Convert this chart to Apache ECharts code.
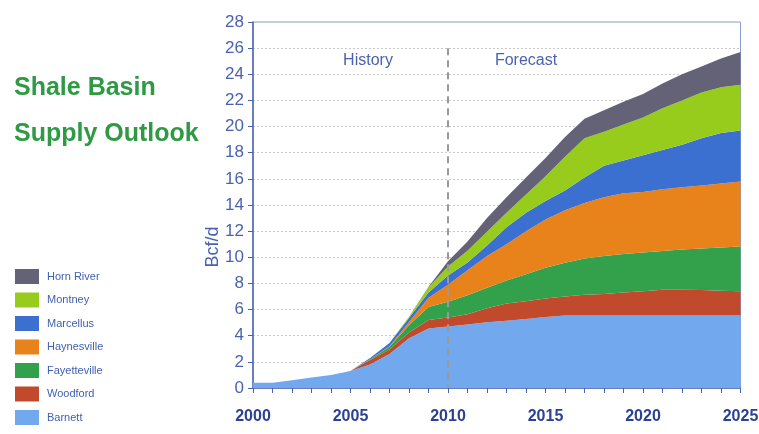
<!DOCTYPE html>
<html>
<head>
<meta charset="utf-8">
<script src="https://cdn.jsdelivr.net/npm/echarts@6/dist/echarts.min.js"></script>
<style>
html,body{margin:0;padding:0;background:#ffffff;}
#c{width:759px;height:434px;}
</style>
</head>
<body>
<div id="c"></div>
<script>
const years = ['2000','2001','2002','2003','2004','2005','2006','2007','2008','2009','2010','2011','2012','2013','2014','2015','2016','2017','2018','2019','2020','2021','2022','2023','2024','2025'];
const yTicks = {min: 0, max: 28, interval: 2};
const barnett      = [0.4,0.4,0.6,0.8,1.0,1.3,1.8,2.6,3.8,4.55,4.7,4.85,5.03,5.15,5.28,5.44,5.54,5.54,5.54,5.54,5.54,5.54,5.54,5.54,5.54,5.54];
const woodford     = [0,0,0,0,0,0,0.35,0.35,0.45,0.65,0.7,0.8,1.07,1.31,1.36,1.41,1.46,1.59,1.66,1.76,1.87,1.97,1.97,1.95,1.9,1.87];
const fayetteville = [0,0,0,0,0,0,0.05,0.2,0.55,1.0,1.2,1.45,1.57,1.77,2.06,2.35,2.59,2.77,2.9,2.96,2.95,2.98,3.08,3.18,3.3,3.41];
const haynesville  = [0,0,0,0,0,0,0,0.05,0.25,0.7,1.3,1.9,2.43,2.77,3.3,3.7,4.01,4.25,4.5,4.64,4.64,4.71,4.76,4.83,4.91,4.98];
const marcellus    = [0,0,0,0,0,0,0.1,0.25,0.3,0.4,0.7,0.6,0.8,1.3,1.4,1.4,1.5,1.95,2.4,2.5,2.8,3.0,3.25,3.6,3.85,3.9];
const montney      = [0,0,0,0,0,0,0,0,0.1,0.4,0.7,0.9,1.05,1.1,1.4,1.9,2.6,3.0,2.6,2.75,2.9,3.2,3.4,3.5,3.5,3.5];
const hornRiver    = [0,0,0,0,0,0,0,0,0,0.05,0.4,0.7,1.05,1.2,1.3,1.4,1.5,1.5,1.65,1.75,1.8,1.9,2.0,2.0,2.2,2.5];
const seriesNames  = ['Barnett','Woodford','Fayetteville','Haynesville','Marcellus','Montney','Horn River'];
const seriesData   = [barnett, woodford, fayetteville, haynesville, marcellus, montney, hornRiver];
const seriesColors = ['#72a8ee','#c24a2c','#33a04c','#e8821a','#3c70d0','#98cc1c','#636276'];
const splitYear = '2010';

const FONT = "'Liberation Sans',Arial,sans-serif";
const chart = echarts.init(document.getElementById('c'), null, {renderer: 'canvas'});

const series = seriesNames.map((n, i) => ({
  name: n,
  type: 'line',
  stack: 'total',
  data: seriesData[i],
  symbol: 'none',
  smooth: false,
  lineStyle: {width: 0, color: seriesColors[i]},
  itemStyle: {color: seriesColors[i]},
  areaStyle: {color: seriesColors[i], opacity: 1},
  z: 2
}));
series[0].markLine = {
  silent: true,
  symbol: ['none','none'],
  label: {show: false},
  lineStyle: {color: '#9a9a9a', type: [7,5], width: 2},
  data: [[{coord: [splitYear, 26]}, {coord: [splitYear, 0]}]],
  z: 10
};

chart.setOption({
  animation: false,
  backgroundColor: '#ffffff',
  grid: {left: 253, right: 18.5, top: 22, bottom: 46, show: true, borderColor: '#8a9ed4', borderWidth: 1, outerBoundsMode: 'none', containLabel: false},
  legend: {
    orient: 'vertical', left: 15, top: 269, height: 165, padding: 0, itemWidth: 24, itemHeight: 15, itemGap: 8.5,
    icon: 'rect',
    data: seriesNames.slice().reverse(),
    textStyle: {color: '#3f5fb0', fontSize: 11, lineHeight: 15, fontFamily: FONT, padding: [0,0,0,3]}
  },
  xAxis: {
    type: 'category', data: years, boundaryGap: false,
    axisLine: {lineStyle: {color: '#4a64b4', width: 1.5}},
    axisTick: {show: true, interval: 0, length: 5, lineStyle: {color: '#4a64b4'}},
    axisLabel: {interval: 4, color: '#2b4294', fontWeight: 'bold', fontSize: 16, fontFamily: FONT, margin: 21},
    splitLine: {show: false}
  },
  yAxis: {
    type: 'value', min: yTicks.min, max: yTicks.max, interval: yTicks.interval,
    axisLine: {show: true, lineStyle: {color: '#4a64b4', width: 1.5}},
    axisTick: {show: true, length: 5, lineStyle: {color: '#4a64b4'}},
    axisLabel: {color: '#4a62b0', fontSize: 17, fontFamily: FONT, margin: 9},
    splitLine: {show: true, lineStyle: {color: '#c8c8c8', type: [2,2], width: 1}}
  },
  graphic: [
    {type: 'text', x: 14, y: 88, style: {text: 'Shale Basin', fill: '#2e9a44', font: "bold 25px " + FONT, verticalAlign: 'middle'}},
    {type: 'text', x: 14, y: 134, style: {text: 'Supply Outlook', fill: '#2e9a44', font: "bold 25px " + FONT, verticalAlign: 'middle'}},
    {type: 'text', x: 368, y: 61, style: {text: 'History', fill: '#4a62b0', font: "16px " + FONT, align: 'center', verticalAlign: 'middle'}},
    {type: 'text', x: 526, y: 61, style: {text: 'Forecast', fill: '#4a62b0', font: "16px " + FONT, align: 'center', verticalAlign: 'middle'}},
    {type: 'text', x: 213, y: 247, rotation: Math.PI/2, style: {text: 'Bcf/d', fill: '#4a62b0', font: "18px " + FONT, align: 'center', verticalAlign: 'middle'}}
  ],
  series: series
});
</script>
</body>
</html>
